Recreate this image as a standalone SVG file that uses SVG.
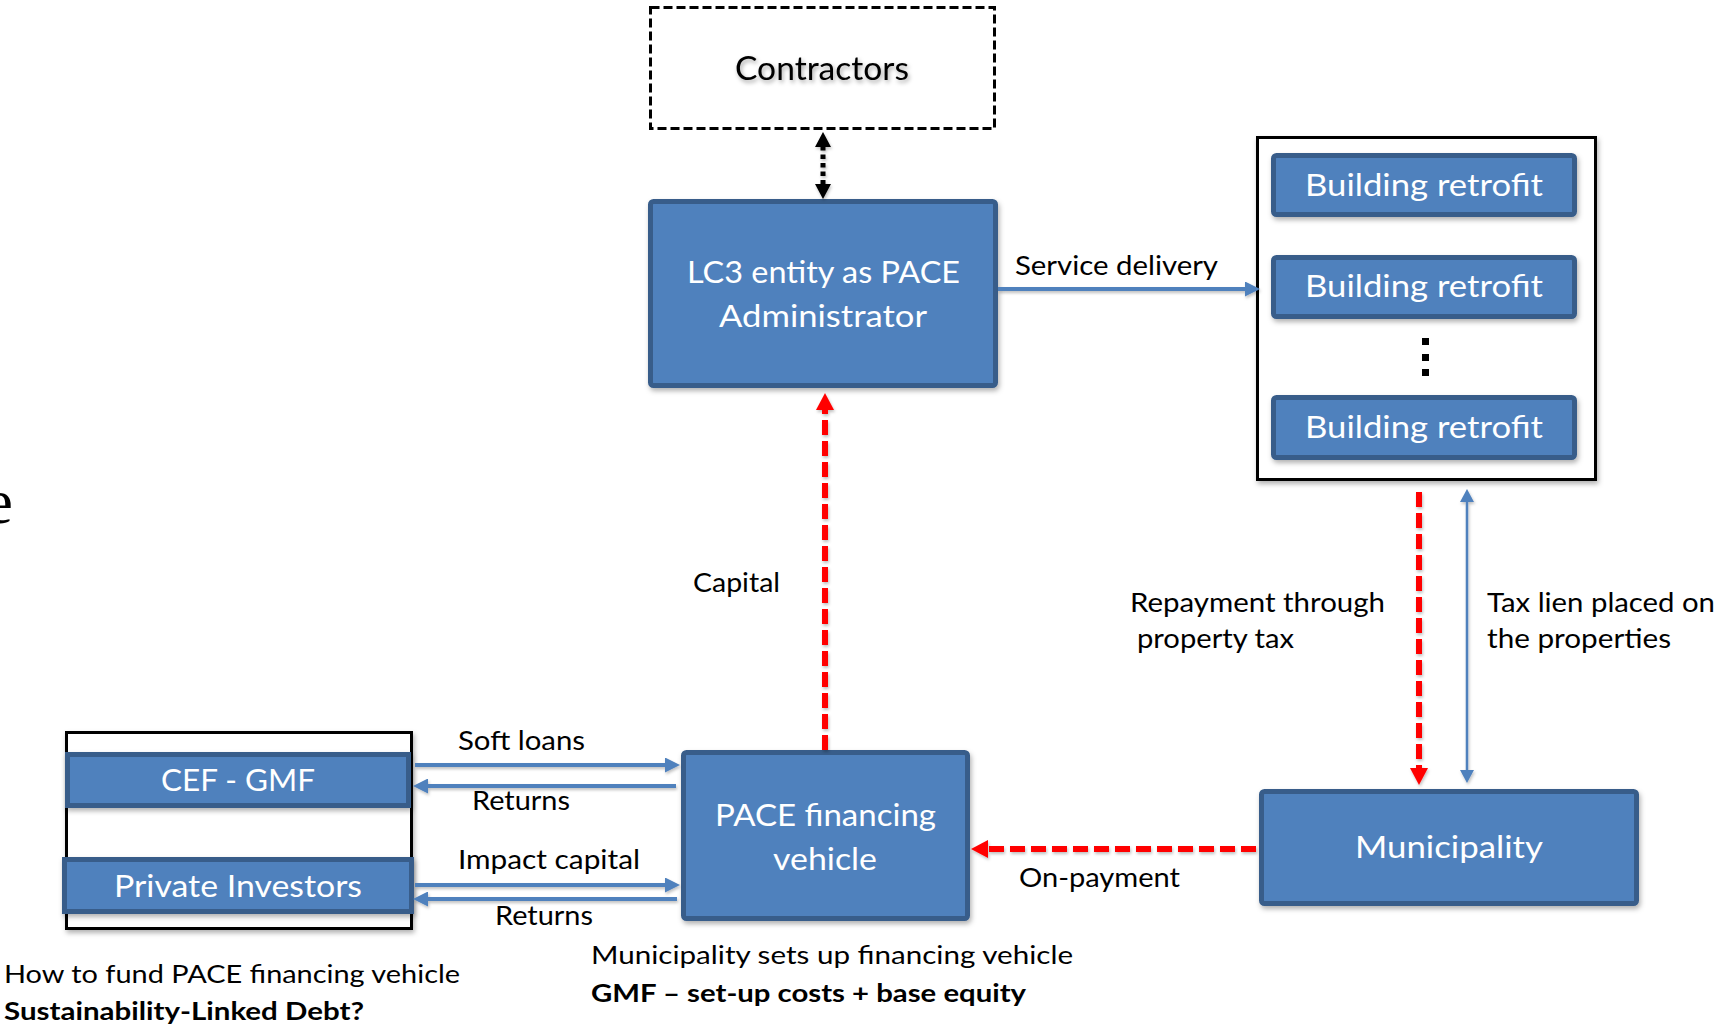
<svg xmlns="http://www.w3.org/2000/svg" width="1716" height="1029" viewBox="0 0 1716 1029">
  <style>
    text { font-family: Lato, "Open Sans", "Liberation Sans", sans-serif; }
    .box { fill: #4f81bd; stroke: #385d8a; stroke-width: 5; filter: url(#sh); }
    .frame { fill: #ffffff; stroke: #000000; stroke-width: 3; filter: url(#sh); }
    .in { fill: #ffffff; }
    .lbl { fill: #000000; font-size: 26.5px; }
    .note { fill: #000000; font-size: 25.5px; }
    .b { font-weight: bold; }
    .blue { stroke: #4f81bd; stroke-width: 4; fill: none; }
    .red { stroke: #ff0000; stroke-width: 6; stroke-dasharray: 15 6; fill: none; }
  </style>
  <defs>
    <filter id="sh" x="-10%" y="-10%" width="120%" height="130%">
      <feDropShadow dx="1.5" dy="3" stdDeviation="2.5" flood-color="#000" flood-opacity="0.3"/>
    </filter>
    <!-- straight lines have a flat bounding box, so this one works in canvas units -->
    <filter id="lsh" filterUnits="userSpaceOnUse" x="0" y="0" width="1716" height="1029">
      <feDropShadow dx="1" dy="2" stdDeviation="1.5" flood-color="#000" flood-opacity="0.25"/>
    </filter>
    <filter id="tsh" x="-10%" y="-20%" width="120%" height="150%">
      <feDropShadow dx="1.5" dy="2.5" stdDeviation="2" flood-color="#000" flood-opacity="0.35"/>
    </filter>
    <marker id="ahBlack" viewBox="0 0 15 16" markerUnits="userSpaceOnUse" markerWidth="15" markerHeight="16" refX="1" refY="8" orient="auto-start-reverse">
      <path d="M0,0 L15,8 L0,16 z" fill="#000000"/>
    </marker>
    <marker id="ahRed" viewBox="0 0 17 18" markerUnits="userSpaceOnUse" markerWidth="17" markerHeight="18" refX="1" refY="9" orient="auto-start-reverse">
      <path d="M0,0 L17,9 L0,18 z" fill="#ff0000"/>
    </marker>
    <marker id="ahBlue" viewBox="0 0 15 15" markerUnits="userSpaceOnUse" markerWidth="15" markerHeight="15" refX="1" refY="7.5" orient="auto-start-reverse">
      <path d="M0,0 L15,7.5 L0,15 z" fill="#4f81bd"/>
    </marker>
    <marker id="ahBlueThin" viewBox="0 0 13 14" markerUnits="userSpaceOnUse" markerWidth="13" markerHeight="14" refX="1" refY="7" orient="auto-start-reverse">
      <path d="M0,0 L13,7 L0,14 z" fill="#4f81bd"/>
    </marker>
  </defs>

  <rect width="1716" height="1029" fill="#ffffff"/>

  <!-- cut-off word at the left margin -->
  <text x="13" y="523" text-anchor="end" style="font-family:'Liberation Serif','Times New Roman',serif;font-size:64px;fill:#000">e</text>

  <!-- Nodes -->
  <g id="contractors">
    <rect x="650.5" y="7.5" width="344" height="121" fill="#ffffff" stroke="#000000" stroke-width="3" stroke-dasharray="9 4"/>
    <text x="735" y="80" textLength="174" lengthAdjust="spacingAndGlyphs" style="font-size:32px;fill:#000" filter="url(#tsh)">Contractors</text>
  </g>

  <g id="lc3-admin">
    <rect class="box" x="650.5" y="201.5" width="345" height="184" rx="3"/>
    <text class="in" x="687" y="283" textLength="273" lengthAdjust="spacingAndGlyphs" style="font-size:30.5px">LC3 entity as PACE</text>
    <text class="in" x="719" y="327" textLength="208" lengthAdjust="spacingAndGlyphs" style="font-size:30.5px">Administrator</text>
  </g>

  <g id="buildings">
    <rect class="frame" x="1257.5" y="137.5" width="338" height="342"/>
    <rect class="box" x="1273.5" y="155.5" width="301" height="59" rx="3"/>
    <text class="in" x="1305" y="196" textLength="238" lengthAdjust="spacingAndGlyphs" style="font-size:30px">Building retrofit</text>
    <rect class="box" x="1273.5" y="257.5" width="301" height="59" rx="3"/>
    <text class="in" x="1305" y="297" textLength="238" lengthAdjust="spacingAndGlyphs" style="font-size:30px">Building retrofit</text>
    <rect x="1422" y="338" width="7" height="7" fill="#000"/>
    <rect x="1422" y="354" width="7" height="7" fill="#000"/>
    <rect x="1422" y="369" width="7" height="7" fill="#000"/>
    <rect class="box" x="1273.5" y="397.5" width="301" height="60" rx="3"/>
    <text class="in" x="1305" y="438" textLength="238" lengthAdjust="spacingAndGlyphs" style="font-size:30px">Building retrofit</text>
  </g>

  <g id="municipality">
    <rect class="box" x="1261.5" y="791.5" width="375" height="112" rx="3"/>
    <text class="in" x="1355" y="858" textLength="188" lengthAdjust="spacingAndGlyphs" style="font-size:30px">Municipality</text>
  </g>

  <g id="pace-vehicle">
    <rect class="box" x="683.5" y="752.5" width="284" height="166" rx="3"/>
    <text class="in" x="715" y="826" textLength="221" lengthAdjust="spacingAndGlyphs" style="font-size:31px">PACE financing</text>
    <text class="in" x="773" y="870" textLength="104" lengthAdjust="spacingAndGlyphs" style="font-size:31px">vehicle</text>
  </g>

  <g id="funders">
    <rect class="frame" x="66.5" y="732.5" width="345" height="196"/>
    <g id="cef-gmf">
      <rect class="box" x="67.5" y="754.5" width="341" height="51"/>
      <text class="in" x="161" y="791" textLength="154" lengthAdjust="spacingAndGlyphs" style="font-size:31px">CEF - GMF</text>
    </g>
    <g id="private-investors">
      <rect class="box" x="64.5" y="859.5" width="347" height="52"/>
      <text class="in" x="114" y="897" textLength="248" lengthAdjust="spacingAndGlyphs" style="font-size:31px">Private Investors</text>
    </g>
  </g>

  <!-- Connectors -->
  <g id="connectors" filter="url(#lsh)">
    <line x1="823" y1="146" x2="823" y2="185" stroke="#000" stroke-width="5" stroke-dasharray="4.5 4" marker-start="url(#ahBlack)" marker-end="url(#ahBlack)"/>
    <line class="blue" x1="998" y1="289" x2="1246" y2="289" marker-end="url(#ahBlue)"/>
    <line class="red" x1="825" y1="750" x2="825" y2="409" marker-end="url(#ahRed)"/>
    <line class="red" x1="1419" y1="492" x2="1419" y2="769" marker-end="url(#ahRed)"/>
    <line x1="1467" y1="501" x2="1467" y2="771" stroke="#4f81bd" stroke-width="2.5" marker-start="url(#ahBlueThin)" marker-end="url(#ahBlueThin)"/>
    <line class="red" x1="1256" y1="849" x2="987" y2="849" marker-end="url(#ahRed)"/>
    <line class="blue" x1="415" y1="765" x2="666" y2="765" marker-end="url(#ahBlue)"/>
    <line class="blue" x1="676" y1="786" x2="427" y2="786" marker-end="url(#ahBlue)"/>
    <line class="blue" x1="415" y1="885" x2="666" y2="885" marker-end="url(#ahBlue)"/>
    <line class="blue" x1="677" y1="899" x2="427" y2="899" marker-end="url(#ahBlue)"/>
  </g>

  <!-- Connector labels -->
  <g id="labels">
    <text class="lbl" x="1015" y="275" textLength="203" lengthAdjust="spacingAndGlyphs">Service delivery</text>
    <text class="lbl" x="693" y="592" textLength="87" lengthAdjust="spacingAndGlyphs">Capital</text>
    <text class="lbl" x="1130" y="612" textLength="255" lengthAdjust="spacingAndGlyphs">Repayment through</text>
    <text class="lbl" x="1137" y="648" textLength="157" lengthAdjust="spacingAndGlyphs">property tax</text>
    <text class="lbl" x="1487" y="612" textLength="228" lengthAdjust="spacingAndGlyphs">Tax lien placed on</text>
    <text class="lbl" x="1487" y="648" textLength="184" lengthAdjust="spacingAndGlyphs">the properties</text>
    <text class="lbl" x="458" y="750" textLength="127" lengthAdjust="spacingAndGlyphs">Soft loans</text>
    <text class="lbl" x="472" y="810" textLength="98" lengthAdjust="spacingAndGlyphs">Returns</text>
    <text class="lbl" x="458" y="869" textLength="182" lengthAdjust="spacingAndGlyphs">Impact capital</text>
    <text class="lbl" x="495" y="925" textLength="98" lengthAdjust="spacingAndGlyphs">Returns</text>
    <text class="lbl" x="1019" y="887" textLength="161" lengthAdjust="spacingAndGlyphs">On-payment</text>
  </g>

  <!-- Notes -->
  <g id="notes">
    <text class="note" x="591" y="964" textLength="482" lengthAdjust="spacingAndGlyphs">Municipality sets up financing vehicle</text>
    <text class="note b" x="591" y="1002" textLength="435" lengthAdjust="spacingAndGlyphs">GMF – set-up costs + base equity</text>
    <text class="note" x="4" y="983" textLength="456" lengthAdjust="spacingAndGlyphs">How to fund PACE financing vehicle</text>
    <text class="note b" x="4" y="1020" textLength="360" lengthAdjust="spacingAndGlyphs">Sustainability-Linked Debt?</text>
  </g>
</svg>
